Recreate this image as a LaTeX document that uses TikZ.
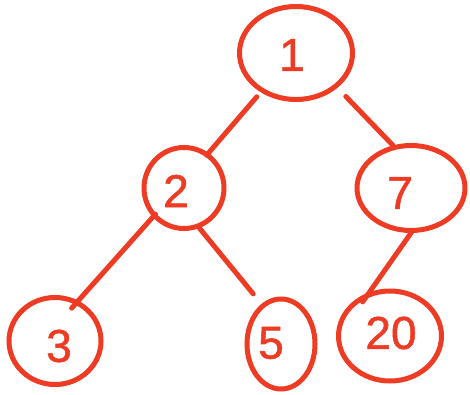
\documentclass[tikz,border=0pt]{standalone}
\usepackage{fontspec}
\setmainfont{Liberation Sans}
\newfontfamily\markerfont[FakeBold=1.2]{Liberation Sans}
\usetikzlibrary{shapes.geometric}
\definecolor{ink}{HTML}{EE3B24}
\begin{document}
\begin{tikzpicture}[x=1pt,y=-1pt,
  vertex/.style={ellipse,draw=ink,line width=5pt,inner sep=0pt},
  digit/.style={text=ink,font=\markerfont\fontsize{46}{46}\selectfont,inner sep=0pt},
  link/.style={draw=ink,line width=5pt,line cap=round}]
  \useasboundingbox (0,0) rectangle (470,395);
  % tree nodes (outlines)
  \node[vertex,minimum width=113pt,minimum height=93pt] (n1)  at (296,53)  {};
  \node[vertex,minimum width=80pt, minimum height=81pt] (n2)  at (184,188) {};
  \node[vertex,minimum width=108pt,minimum height=85pt] (n7)  at (411,188) {};
  \node[vertex,minimum width=92pt, minimum height=87pt] (n3)  at (55,341)  {};
  \node[vertex,minimum width=68pt, minimum height=90pt] (n5)  at (281,344) {};
  \node[vertex,minimum width=103pt,minimum height=90pt] (n20) at (390,336) {};
  % values
  \node[digit] (t1)  at (292,55)  {1};
  \node[digit] (t2)  at (176,191) {2};
  \node[digit] (t7)  at (400,193) {7};
  \node[digit] (t3)  at (59,346)  {3};
  \node[digit] (t5)  at (271,343) {5};
  \node[digit] (t20) at (391,333) {20};
  % edges
  \draw[link,shorten <=6pt,shorten >=-3pt]  (n1.228) -- (n2.55);
  \draw[link,shorten <=12pt]                (n1.320) -- (n7.113);
  \draw[link,shorten <=-4pt,shorten >=-10pt] (n2.223) -- (n3.60);
  \draw[link,shorten >=13pt]                (n2.291) -- (n5.116);
  \draw[link,shorten <=-3pt,shorten >=-12pt] (n7.270) -- (n20.115);
\end{tikzpicture}
\end{document}
